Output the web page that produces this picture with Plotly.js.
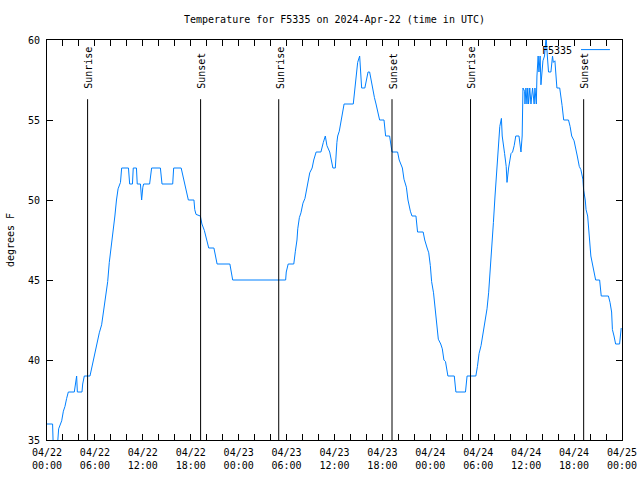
<!DOCTYPE html>
<html>
<head>
<meta charset="utf-8">
<script src="https://cdn.plot.ly/plotly-3.0.1.min.js"></script>
<style>html,body{margin:0;padding:0;background:#fff;}#chart{width:640px;height:480px;}</style>
</head>
<body>
<div id="chart"></div>
<script>
// Hours since 2024-04-22 00:00 UTC
const hoursSinceStart = [
 0.0,0.7,0.8,1.3,1.46,1.63,1.84,2.05,2.25,2.46,2.67,3.42,3.55,3.71,3.8,4.38,4.47,4.67,5.38,5.63,
 5.93,6.2,6.55,6.84,7.1,7.39,7.6,7.8,8.0,8.3,8.5,8.7,8.9,9.2,9.35,10.2,10.35,10.7,10.8,11.2,
 11.3,11.7,11.85,12.0,12.1,12.85,13.1,14.2,14.4,15.74,15.86,16.8,17.1,17.4,17.7,18.4,18.5,18.66,19.2,19.4,
 19.7,20.0,20.25,20.9,21.1,21.3,22.9,23.0,23.25,29.88,29.96,30.2,30.9,31.1,31.3,31.4,31.6,31.8,32.05,32.3,
 32.5,32.7,32.9,33.2,33.4,33.7,34.3,34.6,34.85,35.05,35.4,35.8,36.1,36.3,36.4,36.6,36.85,37.05,37.2,38.35,
 38.5,38.7,38.9,39.15,39.3,39.4,39.8,40.0,40.2,40.4,40.6,40.8,41.0,41.2,41.4,41.65,42.2,42.4,42.9,43.1,
 43.2,43.9,44.1,44.5,44.7,45.0,45.2,45.5,45.7,46.2,46.4,47.1,47.3,47.6,47.8,48.0,48.16,48.4,48.6,48.8,
 49.0,49.3,49.5,49.7,49.9,50.2,51.0,51.2,52.4,52.6,53.7,53.9,54.1,54.35,54.55,54.8,55.1,55.3,55.5,55.7,
 55.9,56.1,56.3,56.5,56.7,56.9,57.0,57.3,57.5,57.6,57.8,58.1,58.3,58.5,58.7,59.1,59.2,59.35,59.5,59.6,
 59.8,59.85,59.97,60.1,60.2,60.3,60.45,60.6,60.8,61.0,61.1,61.27,61.35,61.4,61.5,61.6,61.75,61.85,61.96,62.1,
 62.3,62.4,62.5,62.65,62.8,63.1,63.3,63.4,63.6,63.7,63.85,64.2,64.35,64.5,64.7,65.3,65.5,65.7,66.0,66.2,
 66.4,66.65,66.85,67.1,67.2,67.4,67.5,67.7,67.9,68.1,68.3,68.5,68.7,69.2,69.4,70.3,70.5,70.7,70.8,71.0,
 71.2,71.7,71.9
];
// Temperature, degrees F
const tempF = [
 36,36,34.3,34.6,35.7,36.0,36.2,36.8,37.1,37.6,38,38,38.6,39,38,38,38.5,39,39,39.6,
 40.1,40.9,41.7,42.2,43.2,44.2,44.9,46.1,46.9,48.0,49.0,50.0,50.7,51.1,52,52,51,51,52,52,
 51,51,50,50.8,51,51,52,52,51,51,52,52,51.3,50.8,50,50,49.4,49.1,49,48.5,
 48.1,47.5,47,47,46.5,46,46,45.7,45,45,45.5,46,46,46.8,47.5,48.2,48.9,49.2,49.8,50.1,
 50.7,51.1,51.7,52,52.5,53,53,53.6,54,53.4,53,52,52,53.6,54,54.3,55,55.8,56,56,
 56.7,57.75,58.6,59,58,57,57,57.6,58,58,57.4,57,56.4,56,55.6,55,55,54,54,53.4,
 53,53,52.5,52,51.3,50.8,50,49.3,49,49,48,48,47.5,47,46.7,45.9,44.9,44.2,43.2,42.1,
 41.3,41,40.7,40,39.9,39,39,38,38,39,39,39.6,40.4,40.9,41.5,42.1,43.2,44.2,45.5,47.1,
 48.6,50.25,51.9,53.4,54.6,55.1,54,52.9,52.1,51.1,52,52.9,53,53.4,54,54,53.6,53,54,57,
 56.8,56,57,56,57,56,57,56,57,56,57,56,57.75,58.7,59,58,59,57.2,58,58.7,
 59,59.4,60.2,59,58,58,59,58.6,58.7,58,57,57,56.5,55.9,55,55,54.6,54,53.7,53.1,
 52.75,52.1,51.9,51.3,50.6,50,49.4,49,47.75,46.5,46,45.5,45,45,44,44,43.6,43,41.9,41.5,
 41,41,42
];

const sunTimes  = ['2024-04-22 05:05','2024-04-22 19:14','2024-04-23 05:01','2024-04-23 19:12','2024-04-24 05:02','2024-04-24 19:12'];
const sunLabels = ['Sunrise','Sunset','Sunrise','Sunset','Sunrise','Sunset'];

const xTickVals = ['2024-04-22 00:00','2024-04-22 06:00','2024-04-22 12:00','2024-04-22 18:00',
                   '2024-04-23 00:00','2024-04-23 06:00','2024-04-23 12:00','2024-04-23 18:00',
                   '2024-04-24 00:00','2024-04-24 06:00','2024-04-24 12:00','2024-04-24 18:00','2024-04-25 00:00'];
const xTickText = ['04/22<br>00:00','04/22<br>06:00','04/22<br>12:00','04/22<br>18:00',
                   '04/23<br>00:00','04/23<br>06:00','04/23<br>12:00','04/23<br>18:00',
                   '04/24<br>00:00','04/24<br>06:00','04/24<br>12:00','04/24<br>18:00','04/25<br>00:00'];
const seriesName = 'F5335';

const base = Date.UTC(2024, 3, 22, 0, 0, 0);
function toStamp(h) {
  const d = new Date(base + Math.round(h * 3600000));
  return d.toISOString().slice(0, 19).replace('T', ' ');
}
const xTimes = hoursSinceStart.map(toStamp);

const LINE = 'rgb(0,128,255)';
const FONT = {family: 'DejaVu Sans Mono, Liberation Mono, monospace', size: 10, color: '#000'};

const shapes = [];
const annotations = [];
sunTimes.forEach((t, i) => {
  shapes.push({type: 'line', xref: 'x', yref: 'paper', x0: t, x1: t, y0: 0, y1: 0.852,
               line: {color: '#000', width: 1}});
  annotations.push({xref: 'x', yref: 'paper', x: t, y: 0.872, text: sunLabels[i], textangle: -90,
                    showarrow: false, xanchor: 'center', yanchor: 'bottom', font: FONT, xshift: 1});
});
// legend (gnuplot style: text then sample)
annotations.push({xref: 'paper', yref: 'paper', x: 0.9165, y: 0.974, text: seriesName, showarrow: false,
                  xanchor: 'right', yanchor: 'middle', font: FONT});
shapes.push({type: 'line', xref: 'paper', yref: 'paper', x0: 0.9287, x1: 0.979, y0: 0.976, y1: 0.976,
             line: {color: LINE, width: 1}});

const trace = {x: xTimes, y: tempF, type: 'scatter', mode: 'lines', name: seriesName,
               line: {color: LINE, width: 1}, showlegend: false, hoverinfo: 'x+y'};

const layout = {
  width: 640, height: 480,
  margin: {l: 47, r: 18, t: 40, b: 40},
  paper_bgcolor: '#fff', plot_bgcolor: '#fff',
  font: FONT,
  title: {text: 'Temperature for F5335 on 2024-Apr-22 (time in UTC)', font: FONT,
          xref: 'paper', x: 0.5, xanchor: 'center', yref: 'container', y: 0.96, yanchor: 'middle'},
  xaxis: {type: 'date', range: ['2024-04-22 00:00', '2024-04-25 00:00'],
          tickmode: 'array', tickvals: xTickVals, ticktext: xTickText,
          ticks: 'inside', ticklen: 6, tickcolor: '#000', tickwidth: 1, ticklabelstandoff: 3,
          minor: {dtick: 2 * 3600000, tick0: '2024-04-22 00:00', ticks: 'inside', ticklen: 6, tickcolor: '#000', tickwidth: 1},
          showline: true, linecolor: '#000', linewidth: 1, mirror: 'allticks',
          showgrid: false, zeroline: false, tickfont: FONT, fixedrange: true},
  yaxis: {range: [35, 60], dtick: 5, tick0: 35,
          ticks: 'inside', ticklen: 6, tickcolor: '#000', tickwidth: 1, ticklabelstandoff: 4,
          showline: true, linecolor: '#000', linewidth: 1, mirror: 'allticks',
          showgrid: false, zeroline: false, tickfont: FONT,
          title: {text: 'degrees F', font: FONT, standoff: 11}},
  shapes: shapes,
  annotations: annotations,
  showlegend: false
};

Plotly.newPlot('chart', [trace], layout, {displayModeBar: false, staticPlot: true});
</script>
</body>
</html>
